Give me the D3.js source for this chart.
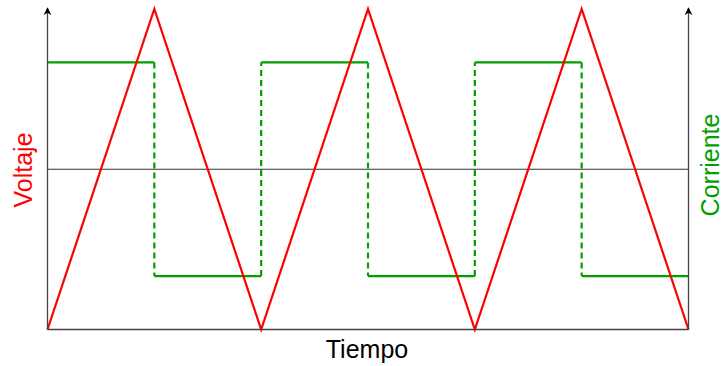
<!DOCTYPE html>
<html>
<head>
<meta charset="utf-8">
<script src="https://cdn.jsdelivr.net/npm/d3@7"></script>
<style>
  body { margin: 0; background: #fff; }
  svg { display: block; font-family: "Liberation Sans", Arial, sans-serif; }
</style>
</head>
<body>
<svg id="chart" width="723" height="366"></svg>
<script>
// time points (periods) and the two signals
var tiempo = [0, 1, 2, 3, 4, 5, 6];
var voltaje = [0, 1, 0, 1, 0, 1, 0];
// current is a square wave: one level per half period
var corrienteNiveles = [1, -1, 1, -1, 1, -1];
var etiquetas = { x: "Tiempo", yLeft: "Voltaje", yRight: "Corriente" };

var svg = d3.select("#chart");
var mLeft = 47.5, mRight = 688.5, mBottom = 329.5, mTop = 9;

var x = d3.scaleLinear().domain([0, 6]).range([mLeft, mRight]);
var yV = d3.scaleLinear().domain([0, 1]).range([mBottom, mTop]);
var yI = d3.scaleLinear().domain([-1.5, 1.5]).range([mBottom, mTop]);

// arrow head
svg.append("defs").append("marker")
  .attr("id", "arrow")
  .attr("viewBox", "0 0 10 10")
  .attr("refX", 9).attr("refY", 5)
  .attr("markerWidth", 8).attr("markerHeight", 9)
  .attr("markerUnits", "userSpaceOnUse")
  .attr("orient", "auto")
  .append("path")
    .attr("d", "M0,0 L10,5 L0,10 L3,5 Z")
    .attr("fill", "#000");

// middle line
svg.append("line")
  .attr("x1", mLeft).attr("x2", mRight)
  .attr("y1", yI(0)).attr("y2", yI(0))
  .attr("stroke", "#333").attr("stroke-width", 1);

// current: solid levels, dashed jumps
var g = svg.append("g").attr("fill", "none").attr("stroke", "#00a000").attr("stroke-width", 2.2);
corrienteNiveles.forEach(function(v, i) {
  g.append("line")
    .attr("x1", x(i)).attr("x2", x(i + 1))
    .attr("y1", yI(v)).attr("y2", yI(v));
  if (i > 0) {
    g.append("line")
      .attr("x1", x(i)).attr("x2", x(i))
      .attr("y1", yI(corrienteNiveles[i - 1])).attr("y2", yI(v))
      .attr("stroke-dasharray", "6,4");
  }
});

// voltage triangle wave
var pts = tiempo.map(function(t, i) { return [t, voltaje[i]]; });
svg.append("path")
  .datum(pts)
  .attr("fill", "none")
  .attr("stroke", "#ff0000")
  .attr("stroke-width", 2.2)
  .attr("stroke-linejoin", "miter")
  .attr("d", d3.line().x(function(d) { return x(d[0]); }).y(function(d) { return yV(d[1]); }));

// axes (no ticks)
var axisCol = "#444";
svg.append("line")
  .attr("x1", mLeft).attr("x2", mRight).attr("y1", mBottom).attr("y2", mBottom)
  .attr("stroke", axisCol).attr("stroke-width", 1.5);
[mLeft, mRight].forEach(function(px) {
  svg.append("line")
    .attr("x1", px).attr("x2", px).attr("y1", mBottom).attr("y2", 8)
    .attr("stroke", axisCol).attr("stroke-width", 1.3)
    .attr("marker-end", "url(#arrow)");
});

// labels
svg.append("text")
  .attr("x", (mLeft + mRight) / 2 - 1).attr("y", 358)
  .attr("text-anchor", "middle")
  .attr("font-size", 25).attr("fill", "#000")
  .text(etiquetas.x);

svg.append("text")
  .attr("transform", "translate(32," + 170 + ") rotate(-90)")
  .attr("text-anchor", "middle")
  .attr("font-size", 25).attr("fill", "#ff0000")
  .text(etiquetas.yLeft);

svg.append("text")
  .attr("transform", "translate(719," + 165 + ") rotate(-90)")
  .attr("text-anchor", "middle")
  .attr("font-size", 25).attr("fill", "#00a000")
  .text(etiquetas.yRight);
</script>
</body>
</html>
